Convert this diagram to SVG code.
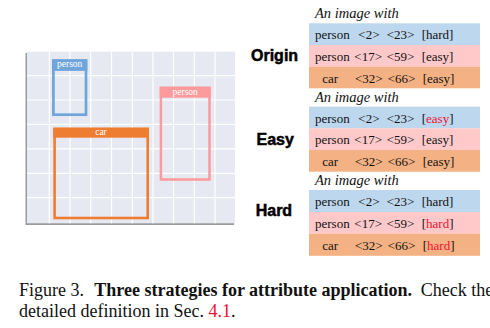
<svg xmlns="http://www.w3.org/2000/svg" width="490" height="328" viewBox="0 0 490 328">
  <style>
    .row { font-family: "Liberation Serif", "Times New Roman", serif; font-size: 13px; fill: #111; }
    .head { font-family: "Liberation Serif", "Times New Roman", serif; font-size: 14.5px; font-style: italic; fill: #111; }
    .lbl { font-family: "Liberation Sans", Arial, sans-serif; font-size: 16px; font-weight: bold; fill: #000; stroke: #000; stroke-width: 0.5; }
    .tag { font-family: "Liberation Serif", "Times New Roman", serif; font-size: 9.5px; fill: #fff; text-anchor: middle; }
    .cap { font-family: "Liberation Serif", "Times New Roman", serif; font-size: 18px; fill: #111; }
    .red { fill: #ee1133; }
    .grid line { stroke: #ffffff; stroke-width: 1.2; }
    .blue { fill: #bdd7ee; }
    .pink { fill: #ffc9c9; }
    .orange { fill: #f4b183; }
  </style>
  <rect width="490" height="328" fill="#ffffff"/>

  <!-- image panel with grid -->
  <g id="panel">
    <rect x="25.5" y="53" width="208.5" height="172" fill="#9a9a9a"/>
    <rect x="27" y="51.7" width="208" height="171.6" fill="#e7e9f2"/>
    <g class="grid">
      <line x1="49.3" y1="51.7" x2="49.3" y2="223.3"/>
      <line x1="70" y1="51.7" x2="70" y2="223.3"/>
      <line x1="90.7" y1="51.7" x2="90.7" y2="223.3"/>
      <line x1="111.5" y1="51.7" x2="111.5" y2="223.3"/>
      <line x1="132.3" y1="51.7" x2="132.3" y2="223.3"/>
      <line x1="153" y1="51.7" x2="153" y2="223.3"/>
      <line x1="173.5" y1="51.7" x2="173.5" y2="223.3"/>
      <line x1="194.3" y1="51.7" x2="194.3" y2="223.3"/>
      <line x1="215" y1="51.7" x2="215" y2="223.3"/>
      <line x1="27" y1="75.7" x2="235" y2="75.7"/>
      <line x1="27" y1="100" x2="235" y2="100"/>
      <line x1="27" y1="124.3" x2="235" y2="124.3"/>
      <line x1="27" y1="148.8" x2="235" y2="148.8"/>
      <line x1="27" y1="173.3" x2="235" y2="173.3"/>
      <line x1="27" y1="197.7" x2="235" y2="197.7"/>
    </g>
  </g>

  <!-- bounding boxes -->
  <g id="box-person-blue">
    <rect x="53.4" y="60.6" width="32.6" height="54.1" fill="none" stroke="#6fa5da" stroke-width="2.7"/>
    <rect x="52" y="59.3" width="35.3" height="11.6" fill="#6fa5da"/>
    <text class="tag" x="69.7" y="67.3">person</text>
  </g>
  <g id="box-person-pink">
    <rect x="160.9" y="87.9" width="48.6" height="91.6" fill="none" stroke="#ff9a9c" stroke-width="2.5"/>
    <rect x="159.7" y="86.7" width="51" height="11" fill="#ff9a9c"/>
    <text class="tag" x="185.2" y="94.6">person</text>
  </g>
  <g id="box-car">
    <rect x="54.6" y="129" width="93.1" height="89" fill="none" stroke="#ee7d31" stroke-width="2.6"/>
    <rect x="53.3" y="127.7" width="95.7" height="10" fill="#ee7d31"/>
    <text class="tag" x="101" y="134.6">car</text>
  </g>

  <!-- Origin -->
  <g id="origin">
    <text class="lbl" x="251" y="61">Origin</text>
    <text class="head" x="315" y="18.3">An image with</text>
    <rect class="blue" x="309" y="23.3" width="171" height="21.7"/>
    <rect class="pink" x="309" y="45" width="171" height="21.7"/>
    <rect class="orange" x="309" y="66.7" width="171" height="21.6"/>
    <text class="row" y="39.3"><tspan x="315">person</tspan><tspan x="358.3">&lt;2&gt;</tspan><tspan x="386.7">&lt;23&gt;</tspan><tspan x="421.7">[hard]</tspan></text>
    <text class="row" y="61"><tspan x="315">person</tspan><tspan x="354.3">&lt;17&gt;</tspan><tspan x="386.7">&lt;59&gt;</tspan><tspan x="421.7">[easy]</tspan></text>
    <text class="row" y="82.6"><tspan x="322.3">car</tspan><tspan x="355">&lt;32&gt;</tspan><tspan x="387.7">&lt;66&gt;</tspan><tspan x="422.7">[easy]</tspan></text>
  </g>

  <!-- Easy -->
  <g id="easy">
    <text class="lbl" x="256.5" y="145">Easy</text>
    <text class="head" x="315" y="101.7">An image with</text>
    <rect class="blue" x="309" y="106.7" width="171" height="21.7"/>
    <rect class="pink" x="309" y="128.3" width="171" height="21.7"/>
    <rect class="orange" x="309" y="150" width="171" height="21.7"/>
    <text class="row" y="122.6"><tspan x="315">person</tspan><tspan x="358.3">&lt;2&gt;</tspan><tspan x="386.7">&lt;23&gt;</tspan><tspan x="421.7">[</tspan><tspan class="red">easy</tspan><tspan>]</tspan></text>
    <text class="row" y="144.3"><tspan x="315">person</tspan><tspan x="354.3">&lt;17&gt;</tspan><tspan x="386.7">&lt;59&gt;</tspan><tspan x="421.7">[easy]</tspan></text>
    <text class="row" y="165.9"><tspan x="322.3">car</tspan><tspan x="355">&lt;32&gt;</tspan><tspan x="387.7">&lt;66&gt;</tspan><tspan x="422.7">[easy]</tspan></text>
  </g>

  <!-- Hard -->
  <g id="hard">
    <text class="lbl" x="255.7" y="215.5">Hard</text>
    <text class="head" x="315" y="185">An image with</text>
    <rect class="blue" x="309" y="190" width="171" height="22"/>
    <rect class="pink" x="309" y="212" width="171" height="21.8"/>
    <rect class="orange" x="309" y="233.8" width="171" height="22"/>
    <text class="row" y="205.9"><tspan x="315">person</tspan><tspan x="358.3">&lt;2&gt;</tspan><tspan x="386.7">&lt;23&gt;</tspan><tspan x="421.7">[hard]</tspan></text>
    <text class="row" y="227.6"><tspan x="315">person</tspan><tspan x="354.3">&lt;17&gt;</tspan><tspan x="386.7">&lt;59&gt;</tspan><tspan x="421.7">[</tspan><tspan class="red">hard</tspan><tspan>]</tspan></text>
    <text class="row" y="249.5"><tspan x="322.3">car</tspan><tspan x="355">&lt;32&gt;</tspan><tspan x="387.7">&lt;66&gt;</tspan><tspan x="422.7">[</tspan><tspan class="red">hard</tspan><tspan>]</tspan></text>
  </g>

  <!-- caption -->
  <g id="caption">
    <text class="cap" y="295.7"><tspan x="19">Figure 3.</tspan><tspan x="94.3" font-weight="bold">Three strategies for attribute application.</tspan><tspan x="420.7">Check the</tspan></text>
    <text class="cap" x="19" y="317.3">detailed definition in Sec. <tspan class="red">4.1</tspan>.</text>
  </g>
</svg>
